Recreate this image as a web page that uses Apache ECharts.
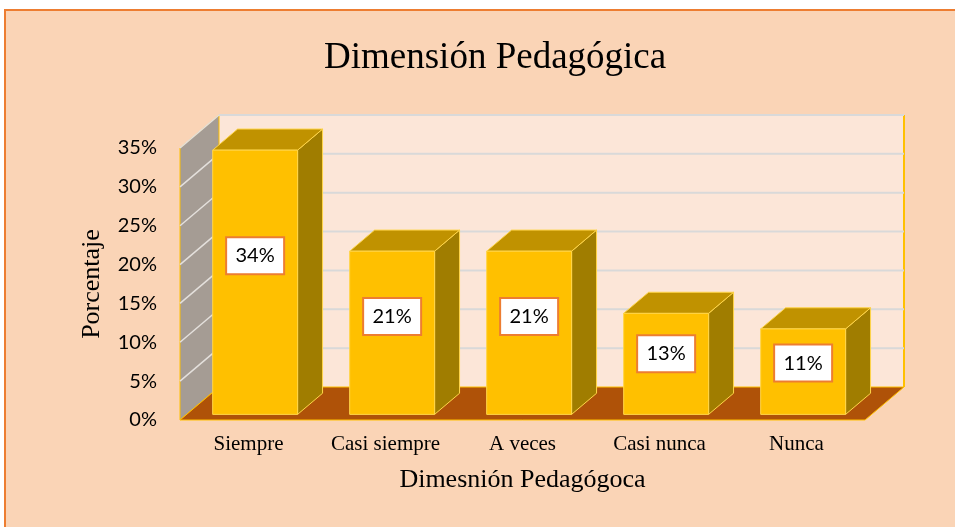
<!DOCTYPE html>
<html>
<head>
<meta charset="utf-8">
<script src="https://cdn.jsdelivr.net/npm/echarts@6/dist/echarts.min.js"></script>
<style>
  html, body { margin: 0; padding: 0; background: #ffffff; }
  #chart { width: 955px; height: 527px; }
</style>
</head>
<body>
<div id="chart"></div>
<script>
const categories = ['Siempre', 'Casi siempre', 'A veces', 'Casi nunca', 'Nunca']
const percentages = [34, 21, 21, 13, 11]
const yTicks = [0, 5, 10, 15, 20, 25, 30, 35]

// oblique depth of the 3D box (front plane -> back wall)
const DEPTH = [39, -33]
const BAR_FRONT = 0.17
const BAR_DEPTH = 0.64

const chart = echarts.init(document.getElementById('chart'))

function renderWalls(params, api) {
  const cs = params.coordSys
  const l = cs.x, r = cs.x + cs.width, t = cs.y, b = cs.y + cs.height
  const [dx, dy] = DEPTH
  return {
    type: 'group',
    children: [
      {
        type: 'rect',
        shape: { x: l + dx, y: t + dy, width: r - l, height: b - t },
        style: { fill: '#FCE6D8', stroke: null }
      },
      {
        type: 'line',
        shape: { x1: r + dx, y1: t + dy, x2: r + dx, y2: b + dy },
        style: { stroke: '#FFC000', lineWidth: 2 }
      },
      {
        type: 'polygon',
        shape: { points: [[l, b], [l, t], [l + dx, t + dy], [l + dx, b + dy]] },
        style: { fill: '#A59C94', stroke: '#FFC000', lineWidth: 1 }
      },
      {
        type: 'polygon',
        shape: { points: [[l, b], [r, b], [r + dx, b + dy], [l + dx, b + dy]] },
        style: { fill: '#AF5208', stroke: '#FFC000', lineWidth: 1 }
      }
    ]
  }
}

function renderGridLine(params, api) {
  const cs = params.coordSys
  const l = cs.x, r = cs.x + cs.width
  const y = api.coord([0, api.value(1)])[1]
  const [dx, dy] = DEPTH
  return {
    type: 'group',
    children: [
      {
        type: 'line',
        shape: { x1: l, y1: y, x2: l + dx, y2: y + dy },
        style: { stroke: '#E4E0DC', lineWidth: 1.5 }
      },
      {
        type: 'line',
        shape: { x1: l + dx, y1: y + dy, x2: r + dx, y2: y + dy },
        style: { stroke: '#D9D9D9', lineWidth: 2 }
      }
    ]
  }
}

function renderBar(params, api) {
  const idx = api.value(0)
  const v = api.value(1)
  const base = api.coord([idx, 0])
  const top = api.coord([idx, v])
  const mid = api.coord([idx, v * 0.6])
  const bw = api.size([1, 0])[0] * 0.62
  const ox = DEPTH[0] * BAR_FRONT, oy = DEPTH[1] * BAR_FRONT
  const dx = DEPTH[0] * BAR_DEPTH, dy = DEPTH[1] * BAR_DEPTH
  const x0 = base[0] - bw / 2 + ox
  const x1 = x0 + bw
  const yt = top[1] + oy
  const yb = base[1] + oy
  const edge = { stroke: '#FFD54A', lineWidth: 1 }
  return {
    type: 'group',
    children: [
      {
        type: 'polygon',
        shape: { points: [[x1, yt], [x1 + dx, yt + dy], [x1 + dx, yb + dy], [x1, yb]] },
        style: Object.assign({ fill: '#A07D00' }, edge)
      },
      {
        type: 'polygon',
        shape: { points: [[x0, yt], [x1, yt], [x1 + dx, yt + dy], [x0 + dx, yt + dy]] },
        style: Object.assign({ fill: '#C09200' }, edge)
      },
      {
        type: 'rect',
        shape: { x: x0, y: yt, width: bw, height: yb - yt },
        style: Object.assign({ fill: '#FFC000' }, edge)
      },
      {
        type: 'rect',
        shape: { x: x0 + bw / 2 - 29, y: mid[1] + oy - 18.5, width: 58, height: 37 },
        style: { fill: '#ffffff', stroke: '#ED7D31', lineWidth: 2 }
      },
      {
        type: 'text',
        x: x0 + bw / 2,
        y: mid[1] + oy,
        style: {
          text: v + '%',
          fill: '#000',
          font: '20px Lato',
          align: 'center',
          verticalAlign: 'middle'
        }
      }
    ]
  }
}

const option = {
  backgroundColor: '#ffffff',
  animation: false,
  graphic: [
    {
      type: 'rect',
      z: -10,
      shape: { x: 5, y: 10, width: 970, height: 540 },
      style: { fill: '#FAD4B6', stroke: '#ED7D31', lineWidth: 2 }
    }
  ],
  title: {
    text: 'Dimensión Pedagógica',
    left: 319,
    top: 35,
    textStyle: {
      fontFamily: 'Liberation Serif',
      fontSize: 37,
      fontWeight: 'normal',
      color: '#000'
    }
  },
  grid: {
    left: 180,
    right: 90,
    top: 148,
    bottom: 107
  },
  xAxis: {
    type: 'category',
    data: categories,
    boundaryGap: true,
    axisLine: { show: false },
    axisTick: { show: false },
    axisLabel: {
      interval: 0,
      hideOverlap: false,
      margin: 14,
      fontFamily: 'Liberation Serif',
      fontSize: 21,
      color: '#000'
    },
    name: 'Dimesnión Pedagógoca',
    nameLocation: 'middle',
    nameGap: 47,
    nameTextStyle: {
      fontFamily: 'Liberation Serif',
      fontSize: 26,
      color: '#000'
    }
  },
  yAxis: {
    type: 'value',
    min: 0,
    max: 35,
    interval: 5,
    axisLine: { show: false },
    axisTick: { show: false },
    splitLine: { show: false },
    axisLabel: {
      margin: 23,
      formatter: '{value}%',
      fontFamily: 'Lato',
      fontSize: 20,
      color: '#000'
    },
    name: 'Porcentaje',
    nameLocation: 'middle',
    nameGap: 75,
    nameTextStyle: {
      fontFamily: 'Liberation Serif',
      fontSize: 26,
      color: '#000'
    }
  },
  series: [
    {
      type: 'custom',
      name: 'walls',
      z: 1,
      silent: true,
      renderItem: renderWalls,
      data: [[0, 0]]
    },
    {
      type: 'custom',
      name: 'grid',
      z: 2,
      silent: true,
      renderItem: renderGridLine,
      data: yTicks.filter(t => t > 0).map(t => [0, t])
    },
    {
      type: 'custom',
      name: 'Porcentaje',
      z: 3,
      renderItem: renderBar,
      data: percentages.map((p, i) => [i, p])
    }
  ]
}

chart.setOption(option)
</script>
</body>
</html>
